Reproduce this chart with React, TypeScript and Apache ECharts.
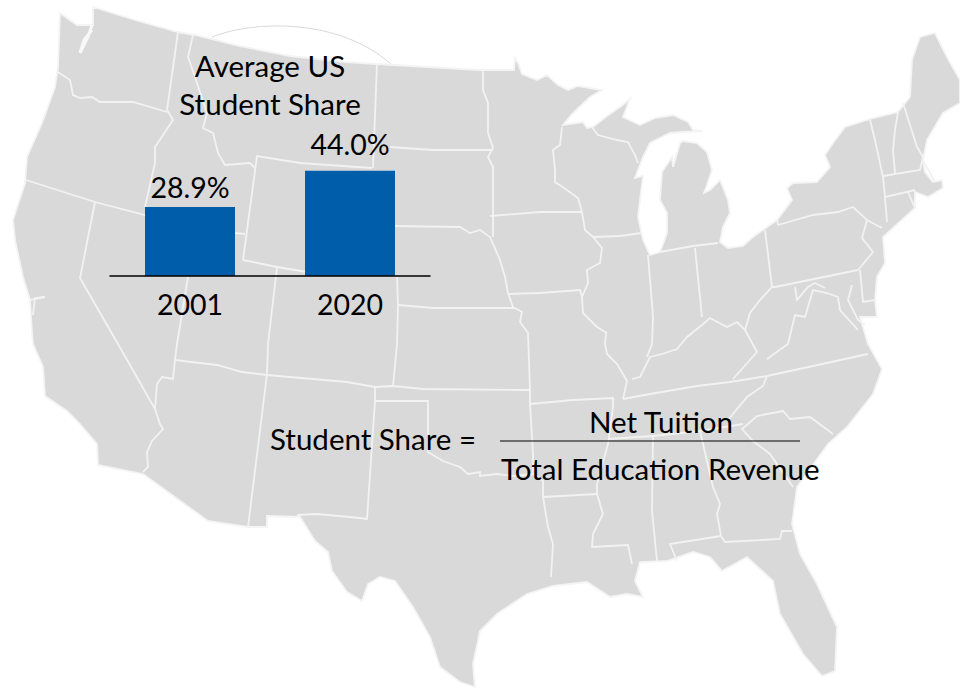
import React, { useEffect, useRef } from "react";
import * as echarts from "echarts";

const years = ["2001", "2020"];
const studentShare = [28.9, 44.0];
const labelGaps = [5, 12];
const titleLines = ["Average US", "Student Share"];

type P = number[][];
const outline: P = [[93,7],[135,20],[178,32],[195,35],[240,46],[290,56],[345,62],[393,65],[480,70],[514,70],[515,58],[518,63],[522,74],[537,80],[547,75],[558,85],[568,90],[578,86],[602,90],[590,97],[572,114],[563,125],[583,122],[587,128],[593,127],[607,116],[620,107],[630,99],[623,117],[640,125],[655,118],[673,115],[688,122],[693,130],[703,131],[682,132],[670,133],[650,143],[643,157],[635,178],[643,176],[640,200],[638,217],[643,240],[650,255],[660,252],[667,233],[667,213],[660,200],[662,172],[672,157],[673,167],[680,143],[683,141],[697,143],[707,152],[712,170],[707,185],[704,193],[710,190],[720,180],[728,200],[730,213],[723,227],[720,242],[728,248],[743,246],[753,237],[777,220],[792,200],[787,188],[793,183],[817,182],[830,167],[825,155],[833,143],[845,127],[870,119],[898,112],[910,97],[912,60],[920,37],[935,33],[947,57],[960,80],[960,103],[943,113],[927,140],[923,160],[925,172],[933,182],[942,180],[943,188],[928,197],[915,192],[915,208],[883,237],[885,263],[877,277],[875,300],[877,317],[860,317],[868,344],[882,369],[873,394],[847,427],[828,444],[797,487],[792,524],[800,554],[817,584],[837,627],[835,671],[822,676],[803,654],[780,614],[773,581],[747,557],[722,571],[710,557],[693,552],[667,561],[640,562],[635,581],[643,597],[627,594],[610,597],[587,582],[553,586],[527,594],[497,614],[480,631],[473,664],[475,687],[460,682],[440,667],[430,637],[413,607],[395,581],[380,577],[368,584],[362,601],[347,592],[332,571],[328,552],[315,541],[300,517],[267,516],[267,527],[248,527],[208,521],[143,474],[98,465],[97,444],[80,424],[67,411],[45,396],[43,367],[33,344],[32,333],[30,300],[23,277],[15,240],[13,220],[25,183],[27,157],[42,123],[55,87],[58,67],[60,13],[77,25],[93,25]];

const borders: P[] = [
  [[58,72],[70,80],[73,95],[80,98],[92,97],[100,102],[133,102],[167,112]],
  [[178,32],[167,110],[173,120],[155,147],[155,163],[145,207]],
  [[193,35],[188,57],[195,77],[207,113],[203,128],[213,133],[218,153],[225,165],[250,163],[255,168]],
  [[26,180],[95,202],[145,215],[235,233],[245,234]],
  [[95,202],[80,278],[118,344],[155,409]],
  [[188,277],[177,344],[175,360],[173,379],[162,377],[157,384],[155,409],[160,424],[163,429],[152,441],[147,452],[148,467],[143,472]],
  [[243,260],[257,156],[300,163],[372,168]],
  [[243,260],[277,267],[307,272]],
  [[377,63],[373,168]],
  [[390,147],[433,150],[493,150]],
  [[395,226],[460,227],[470,233],[480,230],[490,237],[500,260],[505,277],[508,293],[513,307],[522,312],[520,322],[528,333],[530,390],[530,404],[533,454],[533,474],[543,481],[543,497],[548,527],[553,544],[551,577]],
  [[490,216],[540,212],[582,212]],
  [[483,70],[483,90],[488,103],[488,133],[493,148],[488,157],[493,167],[493,237]],
  [[397,277],[398,305],[397,344],[393,386]],
  [[398,305],[433,308],[515,308]],
  [[277,267],[268,344],[267,374],[248,527]],
  [[175,360],[217,365],[242,372],[267,375],[347,382],[375,387],[393,386],[423,389],[530,390]],
  [[375,387],[375,401],[367,519],[350,517],[317,514],[297,515]],
  [[375,401],[428,401],[428,452],[443,461],[460,467],[468,474],[480,472],[480,476],[497,474],[513,476],[533,474]],
  [[530,404],[573,400],[613,398],[613,407],[608,444],[597,484],[597,494],[603,514],[593,534],[592,547],[628,545],[632,564]],
  [[543,497],[597,494]],
  [[608,439],[653,436],[700,431],[743,424]],
  [[623,399],[650,394],[697,386],[730,382],[767,376],[813,366],[868,354]],
  [[767,376],[763,386],[747,397],[737,409],[728,420]],
  [[833,434],[810,417],[790,419],[783,411],[757,416],[742,429],[753,441],[770,454],[793,487]],
  [[653,436],[652,511],[657,561]],
  [[700,431],[713,487],[720,504],[717,514],[721,536],[725,542],[780,539],[782,531],[792,531]],
  [[677,561],[670,544],[721,536]],
  [[606,333],[605,344],[607,354],[617,364],[627,381],[623,399]],
  [[632,379],[640,377],[650,357],[662,354],[677,349],[687,337],[702,325],[710,318],[727,327],[737,322],[745,330],[750,313],[760,300],[772,287],[775,287],[858,270]],
  [[745,330],[757,352],[733,379]],
  [[767,359],[788,344],[795,315],[805,317],[813,290],[827,293],[838,297],[840,310],[858,330]],
  [[772,287],[765,230]],
  [[778,225],[813,215],[838,212],[853,207],[867,220],[862,238],[873,252],[858,270]],
  [[867,220],[882,228]],
  [[778,225],[777,219]],
  [[870,120],[875,140],[883,177],[885,197],[887,222]],
  [[898,112],[895,130],[893,150],[895,173]],
  [[883,176],[920,170],[923,157]],
  [[903,103],[917,147],[923,157]],
  [[885,197],[915,190]],
  [[908,192],[915,208]],
  [[562,127],[560,145],[553,150],[555,170],[555,182],[567,190],[578,198],[582,212],[585,230],[593,237],[602,248],[600,263],[587,270],[588,283],[582,297],[583,313],[597,327],[607,333]],
  [[593,237],[620,236],[642,233]],
  [[592,127],[598,135],[617,140],[628,142],[635,155],[638,163]],
  [[508,294],[540,293],[580,290],[582,297]],
  [[648,255],[653,317],[652,344],[647,357]],
  [[695,248],[702,317]],
  [[660,252],[693,246],[718,243]],
  [[860,270],[863,302],[875,300]],
  [[795,287],[797,300],[808,287],[815,283],[825,288]],
  [[852,285],[848,300],[858,320],[865,325]],
  [[30,300],[45,297],[35,298],[33,315]],
  [[923,160],[935,182]],
];
const sound: P = [[92,25],[88,37],[80,53],[84,40],[92,30]];

const font = "Lato, Carlito, sans-serif";
const textSize = 29.5;
const numberSize = 28.5;

function App() {
  const ref = useRef<HTMLDivElement>(null);
  useEffect(() => {
    const chart = echarts.init(ref.current!, null, { renderer: "svg" });
    const txt = (text: string, x: number, y: number, align: string) => ({
      type: "text", x, y, z: 20,
      style: { text, fill: "#000", font: `${textSize}px ${font}`, textAlign: align, textVerticalAlign: "middle" },
    });
    chart.setOption({
      animation: false,
      backgroundColor: "#fff",
      grid: { left: 110, width: 320, top: 156.5, height: 119.5 },
      xAxis: {
        type: "category", data: years, z: 10,
        axisLine: { lineStyle: { color: "#000", width: 1.5 } },
        axisTick: { show: false },
        axisLabel: { color: "#000", fontFamily: font, fontSize: numberSize, margin: 13 },
      },
      yAxis: { type: "value", min: 0, max: 50, show: false, splitLine: { show: false } },
      series: [{
        type: "bar",
        data: studentShare.map((value, i) => ({ value, label: { distance: labelGaps[i] } })),
        barWidth: 90, z: 5,
        itemStyle: { color: "#005DAA" },
        label: {
          show: true, position: "top", color: "#000", fontFamily: font, fontSize: numberSize,
          formatter: (p: any) => `${p.value.toFixed(1)}%`,
        },
      }],
      graphic: [
        { type: "bezierCurve", z: 0,
          shape: { x1: 212, y1: 37, cpx1: 255, cpy1: 20, cpx2: 340, cpy2: 18, x2: 392, y2: 65 },
          style: { stroke: "#d9d9d9", fill: "none", lineWidth: 1 } },
        { type: "polygon", z: 1, shape: { points: outline },
          style: { fill: "#d9d9d9", stroke: "#f4f4f4", lineWidth: 1.8 } },
        ...borders.map((points) => ({
          type: "polyline", z: 2, shape: { points },
          style: { stroke: "#f2f2f2", fill: "none", lineWidth: 1.8 },
        })),
        { type: "polyline", z: 2, shape: { points: sound }, style: { stroke: "#f8f8f8", fill: "none", lineWidth: 3 } },
        txt(titleLines[0], 270, 65, "center"),
        txt(titleLines[1], 270, 103, "center"),
        txt("Student Share =", 270, 438, "left"),
        txt("Net Tuition", 661, 421, "center"),
        txt("Total Education Revenue", 501, 468, "left"),
        { type: "line", z: 20, shape: { x1: 500, y1: 441, x2: 800, y2: 441 }, style: { stroke: "#000", lineWidth: 1 } },
      ],
    });
    return () => chart.dispose();
  }, []);
  return <div ref={ref} style={{ position: "absolute", left: 0, top: 0, width: 960, height: 688 }} />;
}

export default App;
